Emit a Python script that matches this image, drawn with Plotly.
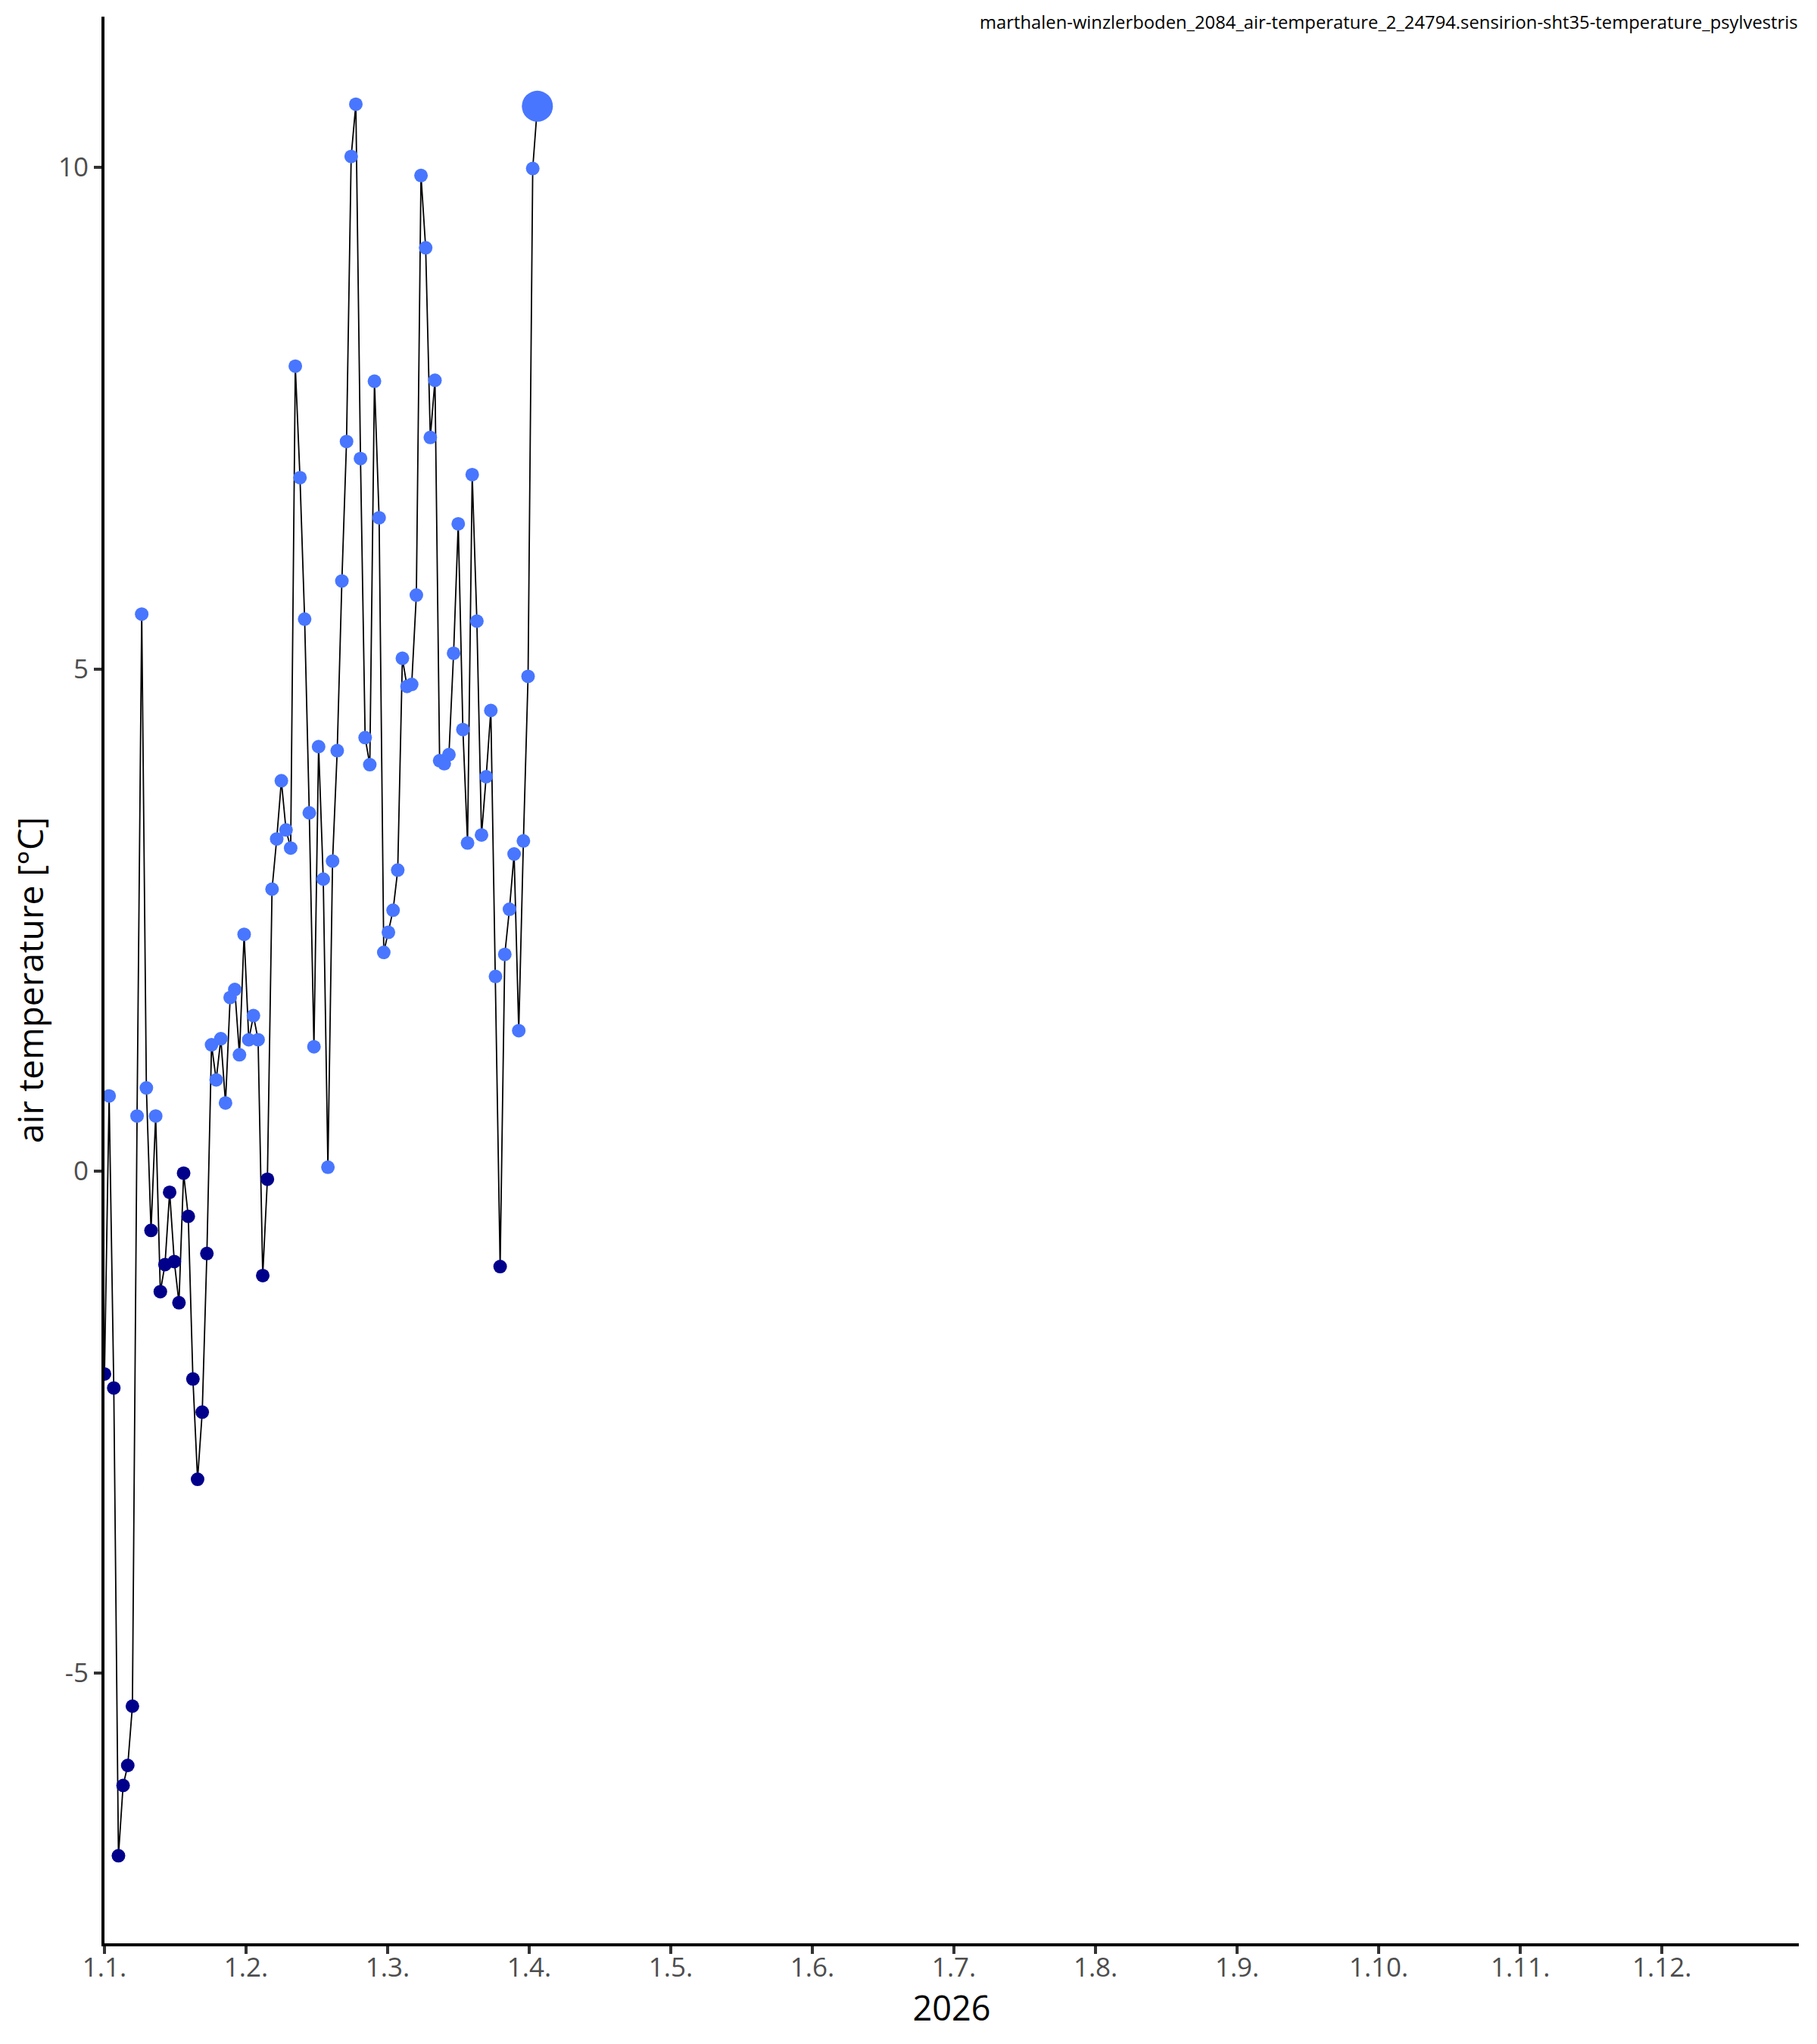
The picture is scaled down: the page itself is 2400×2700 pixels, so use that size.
import plotly.graph_objects as go
import pandas as pd

# ---- data (daily air temperature, °C) ----
start_date = "2026-01-01"
temps = [
    -2.02, 0.75, -2.16, -6.82, -6.12, -5.92, -5.33, 0.55, 5.55, 0.83,
    -0.59, 0.55, -1.20, -0.93, -0.21, -0.90, -1.31, -0.02, -0.45, -2.07,
    -3.07, -2.40, -0.82, 1.26, 0.91, 1.32, 0.68, 1.73, 1.81, 1.16,
    2.36, 1.31, 1.55, 1.31, -1.04, -0.08, 2.81, 3.31, 3.89, 3.40,
    3.22, 8.02, 6.91, 5.50, 3.57, 1.24, 4.23, 2.91, 0.04, 3.09,
    4.19, 5.88, 7.27, 10.11, 10.63, 7.10, 4.32, 4.05, 7.87, 6.51,
    2.18, 2.38, 2.60, 3.00, 5.11, 4.83, 4.85, 5.74, 9.92, 9.20,
    7.31, 7.88, 4.09, 4.06, 4.15, 5.16, 6.45, 4.40, 3.27, 6.94,
    5.48, 3.35, 3.93, 4.59, 1.94, -0.95, 2.16, 2.61, 3.16, 1.40,
    3.29, 4.93, 9.99, 10.61,
]
month_labels = ["1.1.", "1.2.", "1.3.", "1.4.", "1.5.", "1.6.",
                "1.7.", "1.8.", "1.9.", "1.10.", "1.11.", "1.12."]
y_tick_values = [-5, 0, 5, 10]
y_tick_labels = ["-5", "0", "5", "10"]
title_text = "marthalen-winzlerboden_2084_air-temperature_2_24794.sensirion-sht35-temperature_psylvestris"
x_title = "2026"
y_title = "air temperature [°C]"

# ---- derived ----
dates = pd.date_range(start_date, periods=len(temps), freq="D")
day_index = [(d - dates[0]).days for d in dates]

COLD = "#00008B"
WARM = "#4876FF"
colors = [COLD if t < 0 else WARM for t in temps]
sizes = [18] * (len(temps) - 1) + [41]

ymin, ymax = min(temps), max(temps)
pad = 0.05 * (ymax - ymin)

fig = go.Figure()
fig.add_trace(go.Scatter(
    x=day_index, y=temps, mode="lines",
    line=dict(color="black", width=1.8),
    hoverinfo="skip", showlegend=False,
))
fig.add_trace(go.Scatter(
    x=day_index, y=temps, mode="markers",
    marker=dict(color=colors, size=sizes, line=dict(width=0), opacity=1),
    showlegend=False,
))

fig.update_layout(
    width=2400, height=2700,
    paper_bgcolor="white", plot_bgcolor="white",
    margin=dict(l=130, r=32, t=14, b=141, autoexpand=False),
    font=dict(family="Open Sans", color="#4D4D4D"),
    showlegend=False,
)

fig.add_annotation(
    text=title_text, xref="paper", yref="paper", x=1, y=1,
    xanchor="right", yanchor="middle", yshift=-7, showarrow=False,
    borderpad=0,
    font=dict(size=23.8, color="black", family="Open Sans"),
)

fig.update_xaxes(
    range=[0, 364],
    tickmode="array",
    tickvals=[i * 365 / 12 for i in range(12)],
    ticktext=month_labels,
    showgrid=False, zeroline=False,
    showline=True, linecolor="black", linewidth=4,
    ticks="outside", ticklen=10, tickwidth=3.5, tickcolor="#333333",
    ticklabelstandoff=-12,
    tickfont=dict(size=35, color="#4D4D4D", family="Open Sans"),
    title=dict(text=x_title, standoff=12,
               font=dict(size=45, color="black", family="Open Sans")),
)
fig.update_yaxes(
    range=[ymin - pad, ymax + pad],
    tickmode="array",
    tickvals=y_tick_values,
    ticktext=y_tick_labels,
    showgrid=False, zeroline=False,
    showline=True, linecolor="black", linewidth=4,
    ticks="outside", ticklen=10, tickwidth=3.5, tickcolor="#333333",
    tickfont=dict(size=35, color="#4D4D4D", family="Open Sans"),
    title=dict(text=y_title, standoff=10,
               font=dict(size=46, color="black", family="Open Sans")),
)

fig.write_html("out.html")
